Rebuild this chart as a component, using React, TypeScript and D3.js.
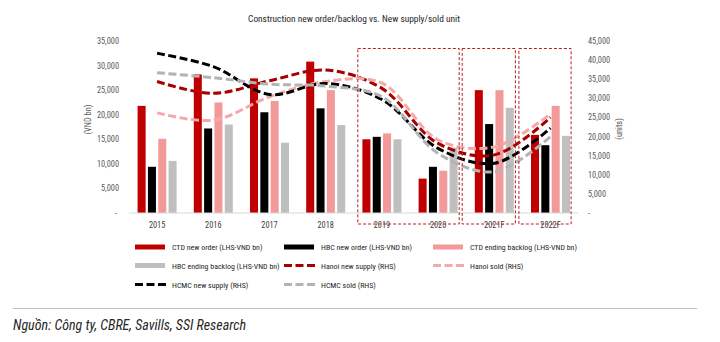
import React from "react";
import * as d3 from "d3";

const years = ["2015", "2016", "2017", "2018", "2019", "2020", "2021F", "2022F"];
const ctdNewOrder = [21800, 28200, 27400, 30800, 15000, 7000, 25000, 15900];
const hbcNewOrder = [9400, 17200, 20500, 21300, 15500, 9400, 18100, 13800];
const ctdBacklog = [15100, 22500, 22800, 25000, 16200, 8600, 25000, 21800];
const hbcBacklog = [10600, 18000, 14300, 17900, 15000, 13300, 21400, 15700];
const hanoiSupply = [34400, 31300, 34600, 37400, 32600, 18200, 15200, 25000];
const hanoiSold = [26200, 24300, 30400, 34400, 34000, 19100, 17300, 25900];
const hcmcSupply = [41800, 38300, 31000, 33900, 29700, 16900, 13000, 22200];
const hcmcSold = [36700, 35400, 33700, 33200, 30400, 15600, 10800, 20000];
const leftTicks = [0, 5000, 10000, 15000, 20000, 25000, 30000, 35000];
const rightTicks = [0, 5000, 10000, 15000, 20000, 25000, 30000, 35000, 40000, 45000];
const title = "Construction new order/backlog vs. New supply/sold unit";
const source = "Nguồn: Công ty, CBRE, Savills, SSI Research";

const barSeries = [
  { name: "CTD new order (LHS-VND bn)", values: ctdNewOrder, color: "#C00000" },
  { name: "HBC new order (LHS-VND bn)", values: hbcNewOrder, color: "#000000" },
  { name: "CTD ending backlog (LHS-VND bn)", values: ctdBacklog, color: "#F29A9A" },
  { name: "HBC ending backlog (LHS-VND bn)", values: hbcBacklog, color: "#BFBFBF" },
];
const lineSeries = [
  { name: "Hanoi new supply (RHS)", values: hanoiSupply, color: "#A80000" },
  { name: "Hanoi sold (RHS)", values: hanoiSold, color: "#F4A9A9" },
  { name: "HCMC new supply (RHS)", values: hcmcSupply, color: "#000000" },
  { name: "HCMC sold (RHS)", values: hcmcSold, color: "#B3B3B3" },
];
const boxes = [
  { cats: ["2019", "2020"], dl: 4, dr: -7 },
  { cats: ["2021F"], dl: -4, dr: -7 },
  { cats: ["2022F"], dl: -3.5, dr: -7.5 },
];

const FONT = "'Liberation Sans Narrow', 'Arial Narrow', 'Roboto Condensed', sans-serif";
const fmt = (v: number) => (v === 0 ? "-" : d3.format(",")(v));

export default function App() {
  const W = 720, H = 342;
  const x = d3.scaleBand<string>().domain(years).range([129, 578.6]).padding(0);
  const inner = d3.scaleBand<string>().domain(barSeries.map((s) => s.name)).range([-19.5, 19.5]).paddingInner(0.223);
  const yL = d3.scaleLinear().domain([0, 35000]).range([213, 41]);
  const yR = d3.scaleLinear().domain([0, 45000]).range([213, 41]);
  const cx = (d: string) => (x(d) as number) + x.bandwidth() / 2;
  const line = d3
    .line<number>()
    .x((_, i) => cx(years[i]))
    .y((v) => yR(v))
    .curve(d3.curveCatmullRom.alpha(0.5));

  const legendItems = [
    { ...barSeries[0], kind: "bar" },
    { ...barSeries[1], kind: "bar" },
    { ...barSeries[2], kind: "bar" },
    { ...barSeries[3], kind: "bar" },
    { ...lineSeries[0], kind: "line" },
    { ...lineSeries[1], kind: "line" },
    { ...lineSeries[2], kind: "line" },
    { ...lineSeries[3], kind: "line" },
  ];
  const legCols = [135, 284, 433];
  const legRows = [247, 265.5, 284.5];

  return (
    <svg width={W} height={H} style={{ position: "absolute", left: 0, top: 0, background: "#fff" }} fontFamily={FONT}>
      <text x={354} y={22} textAnchor="middle" fontSize={9.4} fill="#262626">{title}</text>

      {/* left axis */}
      {leftTicks.map((t) => (
        <text key={"l" + t} x={t === 0 ? 117 : 119} y={yL(t) + 3} textAnchor="end" fontSize={8.3} fill="#595959">{fmt(t)}</text>
      ))}
      <text transform={`translate(91,${yL(19000)}) rotate(-90)`} textAnchor="middle" fontSize={8.3} fill="#595959">(VND bn)</text>

      {/* right axis */}
      {rightTicks.map((t) => (
        <text key={"r" + t} x={588} y={yR(t) + 3} textAnchor="start" fontSize={8.3} fill="#595959">{fmt(t)}</text>
      ))}
      <text transform={`translate(622,${yR(22000)}) rotate(-90)`} textAnchor="middle" fontSize={8.3} fill="#595959">(units)</text>

      {/* bars */}
      {barSeries.map((s) =>
        s.values.map((v, i) => (
          <rect key={s.name + i} x={cx(years[i]) + (inner(s.name) as number)} y={yL(v)} width={inner.bandwidth()} height={yL(0) - yL(v)} fill={s.color} />
        ))
      )}
      <line x1={x.range()[0]} x2={x.range()[1]} y1={yL(0)} y2={yL(0)} stroke="#D9D9D9" strokeWidth={1} />

      {years.map((y) => (
        <text key={"x" + y} x={cx(y)} y={228} textAnchor="middle" fontSize={8.3} fill="#404040">{y}</text>
      ))}

      {/* lines */}
      {lineSeries.map((s) => (
        <path key={s.name} d={line(s.values) as string} fill="none" stroke={s.color} strokeWidth={3} strokeDasharray="8,3.5" />
      ))}

      {/* highlight boxes */}
      {boxes.map((b, i) => {
        const l = (x(b.cats[0]) as number) + b.dl;
        const r = (x(b.cats[b.cats.length - 1]) as number) + x.bandwidth() + b.dr;
        return <rect key={"b" + i} x={l} y={48.5} width={r - l} height={175.5} fill="none" stroke="#B22222" strokeWidth={1} strokeDasharray="3,2" />;
      })}

      {/* legend */}
      {legendItems.map((it, i) => {
        const lx = legCols[i % 3];
        const ly = legRows[Math.floor(i / 3)];
        return (
          <g key={"lg" + i}>
            {it.kind === "bar" ? (
              <rect x={lx} y={ly - 2.5} width={30} height={5} fill={it.color} />
            ) : (
              <line x1={lx} x2={lx + 33} y1={ly} y2={ly} stroke={it.color} strokeWidth={3} strokeDasharray="8,3.5" />
            )}
            <text x={lx + 37} y={ly + 3} fontSize={7.9} fill="#262626">{it.name}</text>
          </g>
        );
      })}

      <line x1={13} x2={697} y1={308.5} y2={308.5} stroke="#BFBFBF" strokeWidth={1} />
      <text x={13} y={330} fontSize={14} fontStyle="italic" fill="#262626">{source}</text>
    </svg>
  );
}
